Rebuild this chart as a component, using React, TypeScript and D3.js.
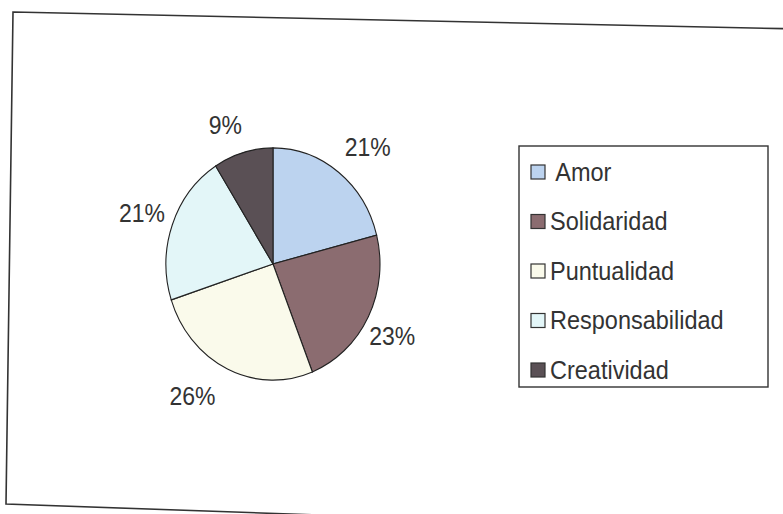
import React from "react";
import * as d3 from "d3";

const categories = ["Amor", "Solidaridad", "Puntualidad", "Responsabilidad", "Creatividad"];
const values = [21, 23, 26, 21, 9];
const labels = ["21%", "23%", "26%", "21%", "9%"];
const legendLabels = [" Amor", "Solidaridad", "Puntualidad", "Responsabilidad", "Creatividad"];
const colors = ["#bcd3ef", "#8b6c70", "#fafaeb", "#e3f6f8", "#5a5055"];

export default function App() {
  const W = 783, H = 514;
  const cx = 273, cy = 264, r = 107, sy = 1.085;
  const pie = d3.pie<number>().sort(null).value((d) => d)(values);
  const arc = d3.arc<d3.PieArcDatum<number>>().innerRadius(0).outerRadius(r);
  const labelArc = d3.arc<d3.PieArcDatum<number>>().innerRadius(r + 28).outerRadius(r + 28);
  const labelOffsets = [[12, -1], [-1, 6], [-23, 0], [-4, -1], [-10, 2]];
  const font = "'Liberation Sans', Arial, sans-serif";

  const lx = 519, ly = 146, lw = 249, lh = 241;
  const ys = d3.scaleLinear().domain([0, categories.length - 1]).range([172, 370]);

  const frame = d3.line()([[13, 12], [800, 29], [800, 532], [6, 504]]) + "Z";

  return (
    <svg width={W} height={H} style={{ position: "absolute", left: 0, top: 0, background: "#fff" }}>
      <rect x={0} y={0} width={W} height={H} fill="#fff" />
      <path d={frame} fill="none" stroke="#333" strokeWidth={1.6} />
      <g transform={`translate(${cx},${cy}) scale(1,${sy})`}>
        {pie.map((d, i) => (
          <path key={i} d={arc(d) || ""} fill={colors[i]} stroke="#222" strokeWidth={1.1} />
        ))}
      </g>
      {pie.map((d, i) => {
        const [x, y] = labelArc.centroid(d);
        const tx = cx + x + labelOffsets[i][0];
        const ty = cy + y * sy + labelOffsets[i][1];
        return (
          <text key={i} transform={`translate(${tx},${ty}) scale(1,1.1)`} textAnchor="middle"
            dominantBaseline="central" fontFamily={font} fontSize={23} fill="#333">
            {labels[i]}
          </text>
        );
      })}
      <rect x={lx} y={ly} width={lw} height={lh} fill="#fff" stroke="#333" strokeWidth={1.4} />
      {categories.map((c, i) => (
        <g key={c}>
          <rect x={531} y={ys(i) - 7} width={14} height={14} fill={colors[i]} stroke="#333" strokeWidth={1.2} />
          <text transform={`translate(550,${ys(i)}) scale(1,1.1)`} dominantBaseline="central" fontFamily={font}
            fontSize={23.5} fill="#333" style={{ whiteSpace: "pre" }}>
            {legendLabels[i]}
          </text>
        </g>
      ))}
    </svg>
  );
}
